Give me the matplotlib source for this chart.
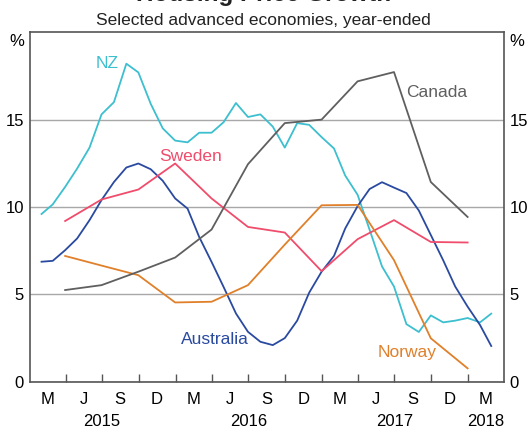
import datetime as dt
import numpy as np
import pandas as pd
import matplotlib
matplotlib.use("Agg")
import matplotlib.pyplot as plt

plt.rcParams['font.family'] = ['Liberation Sans', 'DejaVu Sans']

# monthly series, Jan 2015 - Feb 2018 (month-end)
nz = [9.6, 10.15, 11.15, 12.2, 13.4, 15.3, 16.0, 18.2, 17.7, 15.9, 14.5, 13.8,
      13.7, 14.25, 14.25, 14.85, 15.95, 15.15, 15.3, 14.6, 13.4, 14.8, 14.7, 14.0,
      13.35, 11.8, 10.7, 8.7, 6.6, 5.45, 3.3, 2.85, 3.8, 3.4, 3.5, 3.65, 3.4, 3.9]
australia = [6.87, 6.92, 7.53, 8.2, 9.25, 10.4, 11.43, 12.26, 12.49, 12.16, 11.5, 10.49,
             9.91, 8.29, 6.86, 5.43, 3.91, 2.86, 2.29, 2.1, 2.5, 3.5, 5.1, 6.3,
             7.2, 8.77, 10.05, 11.03, 11.42, 11.11, 10.8, 9.8, 8.4, 6.95, 5.45, 4.3, 3.25, 2.05]

# quarterly series, Mar 2015 - Dec 2017
sweden = [9.2, 10.43, 11.0, 12.49, 10.49, 8.86, 8.54, 6.33, 8.16, 9.25, 8.0, 7.97]
norway = [7.2, 6.65, 6.1, 4.54, 4.58, 5.53, 7.85, 10.1, 10.12, 6.96, 2.49, 0.77]
canada = [5.25, 5.53, 6.3, 7.11, 8.71, 12.45, 14.8, 15.0, 17.19, 17.72, 11.43, 9.43]

quarter_labels = ['M', 'J', 'S', 'D'] * 3 + ['M']
years = ['2015', '2016', '2017', '2018']

months = (pd.date_range('2015-02-01', periods=len(nz), freq='MS') - pd.Timedelta(days=1)).to_pydatetime()
quarters = (pd.date_range('2015-04-01', periods=len(sweden), freq='3MS') - pd.Timedelta(days=1)).to_pydatetime()

colors = {'NZ': '#3cbfcf', 'Australia': '#2a4aa0', 'Sweden': '#f04c6c',
          'Canada': '#5f5f5f', 'Norway': '#e0802a'}

fig = plt.figure(figsize=(5.3, 4.29), dpi=100)
ax = fig.add_axes([0.0557, 0.110, 0.8953, 0.8149])

lw = 1.3
ax.plot(months, nz, color=colors['NZ'], lw=lw)
ax.plot(months, australia, color=colors['Australia'], lw=lw)
ax.plot(quarters, sweden, color=colors['Sweden'], lw=lw)
ax.plot(quarters, norway, color=colors['Norway'], lw=lw)
ax.plot(quarters, canada, color=colors['Canada'], lw=lw)

ax.set_xlim(dt.datetime(2015, 1, 1), dt.datetime(2018, 4, 1))
ax.set_ylim(0, 20)

# quarter boundary ticks and mid-quarter labels
bounds = pd.date_range('2015-04-01', periods=12, freq='3MS').to_pydatetime()
mids = pd.date_range('2015-01-01', periods=13, freq='3MS') + pd.Timedelta(days=45)
ax.set_xticks(bounds)
ax.set_xticklabels([])
ax.set_xticks(mids.to_pydatetime(), minor=True)
ax.set_xticklabels(quarter_labels, minor=True)
ax.tick_params(axis='x', which='major', direction='in', length=6, width=1, color='#555555')
ax.tick_params(axis='x', which='minor', length=0, pad=7, labelsize=12)

year_pos = [dt.datetime(2015, 7, 1), dt.datetime(2016, 7, 1),
            dt.datetime(2017, 7, 1), dt.datetime(2018, 2, 15)]
for x, yr in zip(year_pos, years):
    ax.text(x, -(425.5 - 381.8) / 349.6, yr, transform=ax.get_xaxis_transform(),
            ha='center', va='baseline', fontsize=12)

ax.set_yticks([0, 5, 10, 15])
ax.set_yticklabels(['0', '5', '10', '15'])
ax.tick_params(axis='y', length=0, pad=4, labelsize=12, labelright=True)
ax.yaxis.grid(True, color='#a8a8a8', lw=1)
ax.set_axisbelow(True)

ax.text(-0.012, 0.995, '%', transform=ax.transAxes, ha='right', va='top', fontsize=12)
ax.text(1.012, 0.995, '%', transform=ax.transAxes, ha='left', va='top', fontsize=12)

for s in ax.spines.values():
    s.set_color('#555555')
    s.set_linewidth(1.2)

# series labels
ax.text(dt.datetime(2015, 7, 15), 18.2, 'NZ', color=colors['NZ'], fontsize=12.5, ha='center', va='center')
ax.text(dt.datetime(2016, 2, 7), 12.9, 'Sweden', color=colors['Sweden'], fontsize=12.5, ha='center', va='center')
ax.text(dt.datetime(2017, 10, 15), 16.55, 'Canada', color=colors['Canada'], fontsize=12.5, ha='center', va='center')
ax.text(dt.datetime(2016, 4, 8), 2.4, 'Australia', color=colors['Australia'], fontsize=12.5, ha='center', va='center')
ax.text(dt.datetime(2017, 8, 3), 1.65, 'Norway', color=colors['Norway'], fontsize=12.5, ha='center', va='center')

fig.text(0.497, 1 - 1 / 429, 'Housing Price Growth', ha='center', va='baseline',
         fontsize=17.5, fontweight='bold', color='#222222')
fig.text(0.497, 1 - 25 / 429, 'Selected advanced economies, year-ended', ha='center',
         va='baseline', fontsize=12.5, color='#222222')

fig.savefig('out.png', dpi=100)
